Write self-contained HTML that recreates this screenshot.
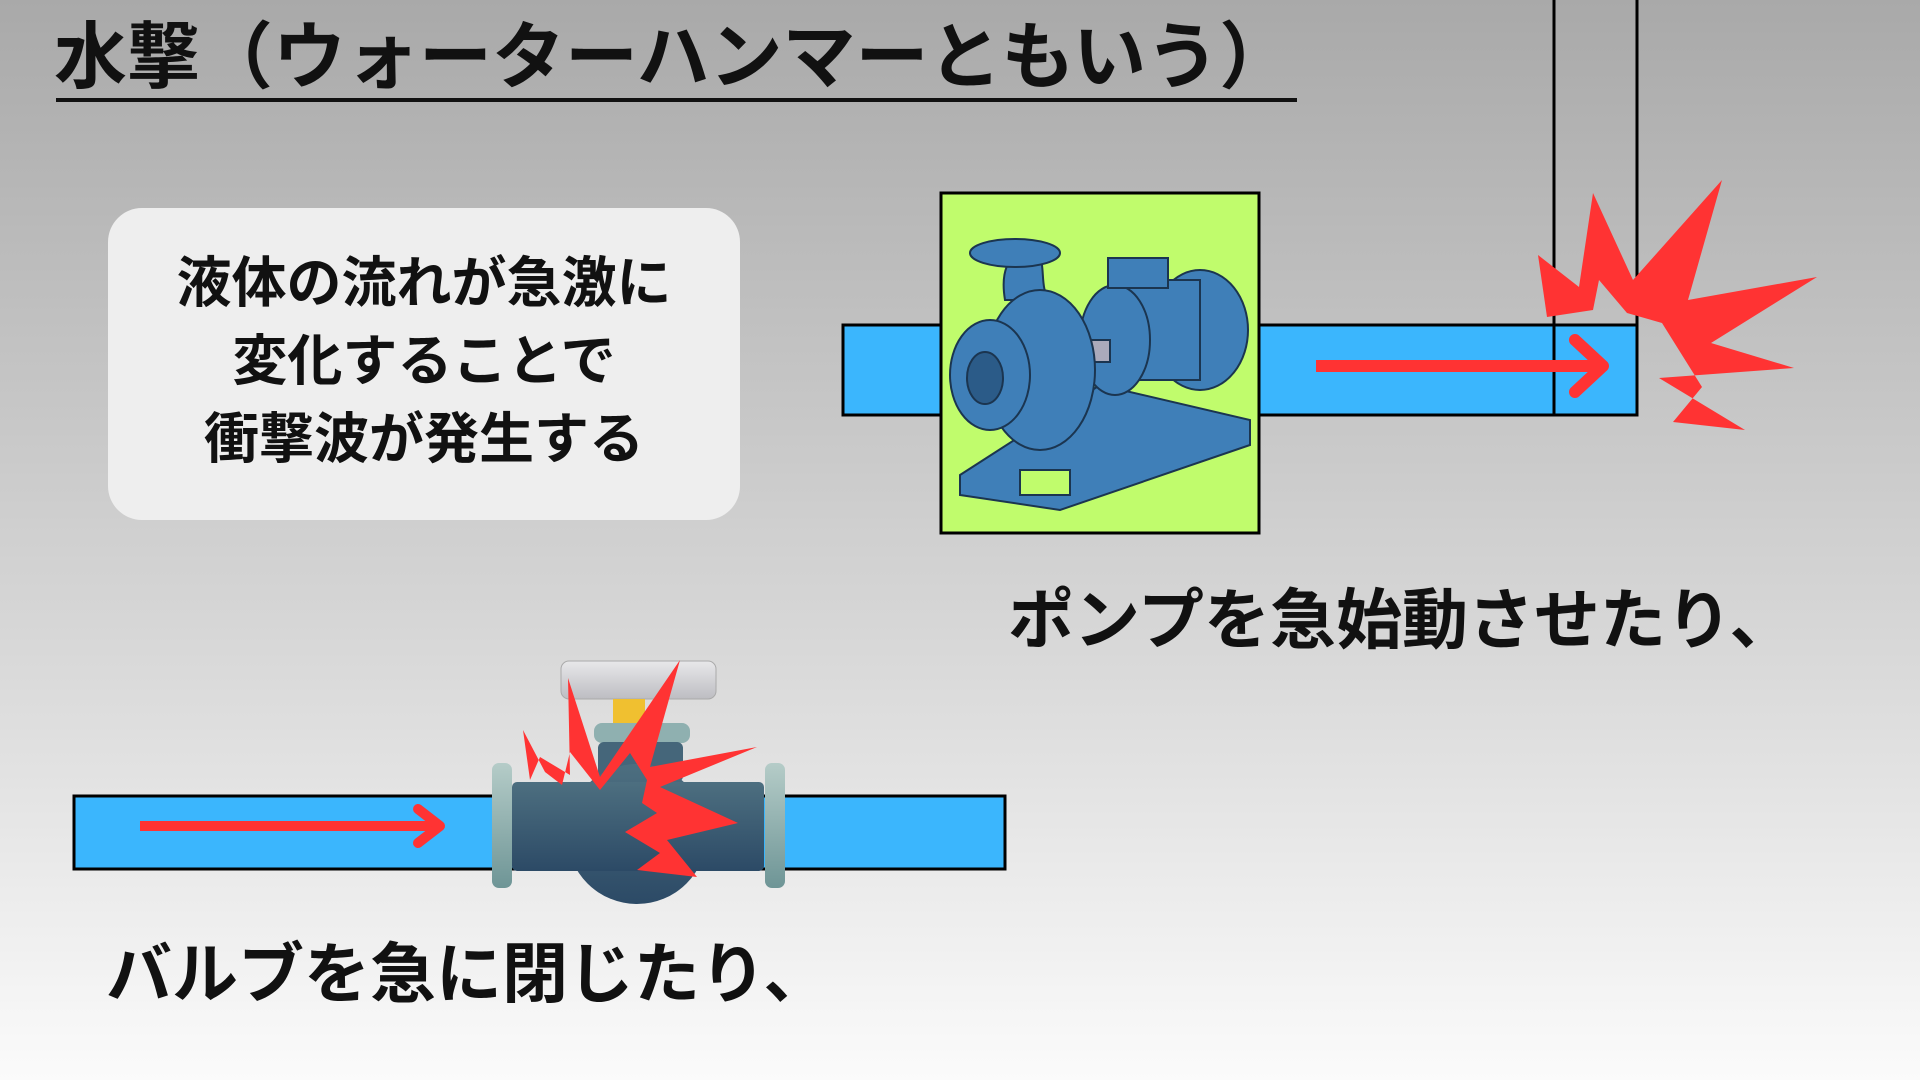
<!DOCTYPE html>
<html><head><meta charset="utf-8"><style>
html,body{margin:0;padding:0}
body{width:1920px;height:1080px;overflow:hidden;position:relative;background:linear-gradient(#a9a9a9,#d8d8d8 60%,#fbfbfb);font-family:"Liberation Sans","Noto Sans CJK JP",sans-serif;}
.t{position:absolute;font-weight:bold;color:#111;white-space:nowrap}
</style></head><body>
<div class="t" style="left:54px;top:16px;font-size:73px;line-height:84px">水撃（ウォーターハンマーともいう）</div>
<div style="position:absolute;left:56px;top:98px;width:1241px;height:4px;background:#111"></div>
<div style="position:absolute;left:108px;top:208px;width:632px;height:312px;border-radius:34px;background:#eeeeee"></div>
<div class="t" style="left:108px;top:244px;width:632px;text-align:center;font-size:55px;line-height:78px">液体の流れが急激に<br>変化することで<br>衝撃波が発生する</div>
<svg width="1920" height="1080" style="position:absolute;left:0;top:0">
<defs>
<linearGradient id="fl" x1="0" y1="0" x2="0" y2="1"><stop offset="0" stop-color="#b5ccc8"/><stop offset="1" stop-color="#6e9596"/></linearGradient>
<linearGradient id="bd" x1="0" y1="0" x2="0" y2="1"><stop offset="0" stop-color="#4d6f80"/><stop offset="1" stop-color="#2c4a66"/></linearGradient>
<linearGradient id="hd" x1="0" y1="0" x2="0" y2="1"><stop offset="0" stop-color="#e8e8ea"/><stop offset="1" stop-color="#bdbdc2"/></linearGradient>
</defs>
<line x1="1554" y1="0" x2="1554" y2="416" stroke="#000" stroke-width="3"/>
<line x1="1637" y1="0" x2="1637" y2="416" stroke="#000" stroke-width="3"/>
<rect x="843" y="325" width="794" height="90" fill="#3bb6fd" stroke="#000" stroke-width="3"/>
<line x1="1554" y1="325" x2="1554" y2="415" stroke="#000" stroke-width="3"/>
<line x1="1316" y1="366" x2="1600" y2="366" stroke="#f33" stroke-width="12"/>
<polyline points="1575,340 1603,366 1575,392" fill="none" stroke="#f33" stroke-width="12" stroke-linecap="round" stroke-linejoin="round"/>
<rect x="941" y="193" width="318" height="340" fill="#c0fc6c" stroke="#000" stroke-width="3"/>
<g fill="#3f7fb8" stroke="#1b3550" stroke-width="2">
<polygon points="960,475 1100,385 1250,420 1250,445 1060,510 960,495"/>
<rect x="1020" y="470" width="50" height="25" fill="#c0fc6c"/>
<ellipse cx="1200" cy="330" rx="48" ry="60"/>
<rect x="1110" y="280" width="90" height="100"/>
<ellipse cx="1115" cy="340" rx="35" ry="55"/>
<rect x="1108" y="258" width="60" height="30"/>
<rect x="1060" y="340" width="50" height="22" fill="#aab"/>
<path d="M1005,300 C1000,270 1010,255 1020,255 L1040,255 C1045,270 1040,290 1050,300 Z"/>
<ellipse cx="1015" cy="253" rx="45" ry="14"/>
<ellipse cx="1040" cy="370" rx="55" ry="80"/>
<ellipse cx="990" cy="375" rx="40" ry="55"/>
<ellipse cx="985" cy="378" rx="18" ry="26" fill="#2b5b88"/>
</g>
<polygon fill="#f33" points="1538,255 1579,287 1593,193 1633,280 1722,180 1688,300 1817,277 1711,343 1794,368 1659,378 1745,430 1673,422 1702,387 1662,323 1627,313 1599,280 1593,310 1547,317"/>
<rect x="74" y="796" width="931" height="73" fill="#3bb6fd" stroke="#000" stroke-width="3"/>
<line x1="140" y1="826" x2="437" y2="826" stroke="#f33" stroke-width="10"/>
<polyline points="418,809 440,826 418,843" fill="none" stroke="#f33" stroke-width="10" stroke-linecap="round" stroke-linejoin="round"/>
<rect x="561" y="661" width="155" height="38" rx="8" fill="url(#hd)" stroke="#aaa"/>
<rect x="613" y="699" width="32" height="25" fill="#f0c030"/>
<rect x="594" y="723" width="96" height="20" rx="8" fill="#8fb0b0"/>
<rect x="598" y="742" width="85" height="40" rx="6" fill="#45667a"/>
<circle cx="637" cy="834" r="70" fill="url(#bd)"/>
<rect x="512" y="782" width="252" height="89" rx="5" fill="url(#bd)"/>
<rect x="492" y="763" width="20" height="125" rx="7" fill="url(#fl)"/>
<rect x="765" y="763" width="20" height="125" rx="7" fill="url(#fl)"/>
<polygon fill="#f33" points="523,730 530,780 540,757 570,775 568,678 600,777 680,660 650,767 757,747 660,787 738,823 667,840 697,877 637,870 660,853 625,832 657,813 642,803 647,780 630,753 600,790 570,752 562,785 545,772"/>
</svg>
<div class="t" style="left:1008px;top:578px;font-size:66px;line-height:84px">ポンプを急始動させたり、</div>
<div class="t" style="left:106px;top:932px;font-size:66px;line-height:84px">バルブを急に閉じたり、</div>
</body></html>
